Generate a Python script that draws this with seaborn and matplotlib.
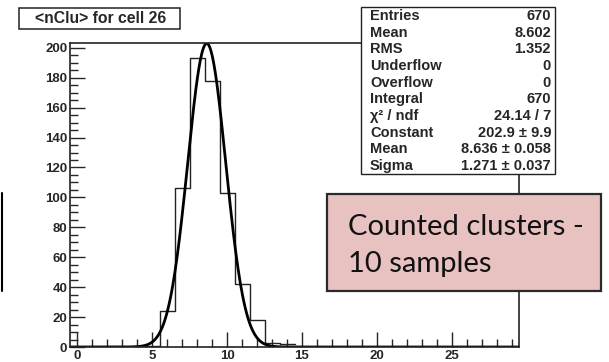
import numpy as np
import pandas as pd
import matplotlib
matplotlib.use('Agg')
import matplotlib.pyplot as plt
from matplotlib.patches import Rectangle
from matplotlib.lines import Line2D
import seaborn as sns

# Histogram contents (bins of width 1, centred on integers)
bin_centers = [5, 6, 7, 8, 9, 10, 11, 12, 13, 14]
bin_counts = [1, 24, 106, 193, 178, 103, 42, 18, 3, 2]

# Gaussian fit parameters from the stats box
fit_constant = 202.9
fit_mean = 8.636
fit_sigma = 1.271

stat_labels = ['Entries', 'Mean', 'RMS', 'Underflow', 'Overflow', 'Integral',
               '\u03c7\u00b2 / ndf', 'Constant', 'Mean', 'Sigma']
stat_values = ['670', '8.602', '1.352', '0', '0', '670',
               '24.14 / 7', '202.9 \u00b1 9.9', '8.636 \u00b1 0.058', '1.271 \u00b1 0.037']

x_ticks = [0, 5, 10, 15, 20, 25]
y_ticks = [0, 20, 40, 60, 80, 100, 120, 140, 160, 180, 200]

ROOT_FONT = ['Liberation Sans', 'DejaVu Sans']

sns.set_style('ticks')
plt.rcParams['font.family'] = ROOT_FONT

W, H = 609, 362
fig = plt.figure(figsize=(W / 100, H / 100), dpi=100)

def fx(px):
    return px / W

def fy(py):
    return 1 - py / H

ax = fig.add_axes([fx(70), fy(347), fx(519) - fx(70), fy(43) - fy(347)])

df = pd.DataFrame({'nclu': bin_centers, 'count': bin_counts})
sns.histplot(data=df, x='nclu', weights='count', binwidth=1,
             binrange=(min(bin_centers) - 0.5, max(bin_centers) + 0.5),
             element='step', fill=False, color='#222222', linewidth=1.0, ax=ax)

# fitted gaussian
xs = np.linspace(-0.5, 29.5, 600)
fit_df = pd.DataFrame({'x': xs,
                       'y': fit_constant * np.exp(-0.5 * ((xs - fit_mean) / fit_sigma) ** 2)})
sns.lineplot(data=fit_df, x='x', y='y', color='black', linewidth=2.0, ax=ax)

ax.set_xlim(-0.5, 29.5)
ax.set_ylim(0, 203.2)
ax.set_xlabel('')
ax.set_ylabel('')
ax.set_xticks(x_ticks)
ax.set_xticks(np.arange(0, 30, 1), minor=True)
ax.set_yticks(y_ticks)
ax.set_yticks(np.arange(0, 205, 5), minor=True)
ax.tick_params(axis='both', which='major', direction='in', length=11, width=1.0,
               labelsize=9.5, pad=2)
ax.tick_params(axis='both', which='minor', direction='in', length=5.5, width=1.0)
for lab in ax.get_xticklabels() + ax.get_yticklabels():
    lab.set_fontweight('bold')
    lab.set_family(ROOT_FONT)
for sp in ax.spines.values():
    sp.set_visible(True)
    sp.set_linewidth(1.2)
    sp.set_color('#222222')

# title box
fig.patches.append(Rectangle((fx(19), fy(29)), fx(180) - fx(19), fy(8) - fy(29),
                             transform=fig.transFigure, facecolor='white',
                             edgecolor='#222222', linewidth=1.1, zorder=2))
fig.text(fx(101), fy(23), '<nClu> for cell 26', ha='center', va='baseline',
         fontsize=11.3, fontweight='bold', family=ROOT_FONT, zorder=3)

# stats box
fig.patches.append(Rectangle((fx(361), fy(174)), fx(555) - fx(361), fy(7) - fy(174),
                             transform=fig.transFigure, facecolor='white',
                             edgecolor='#222222', linewidth=1.0, zorder=2))
for i, (lab, val) in enumerate(zip(stat_labels, stat_values)):
    base = 20 + i * 16.67
    fig.text(fx(370), fy(base), lab, ha='left', va='baseline', fontsize=10.5,
             fontweight='bold', family=ROOT_FONT, zorder=3)
    fig.text(fx(551), fy(base), val, ha='right', va='baseline', fontsize=10.5,
             fontweight='bold', family=ROOT_FONT, zorder=3)

# pink annotation box
fig.patches.append(Rectangle((fx(327), fy(291)), fx(601) - fx(327), fy(194) - fy(291),
                             transform=fig.transFigure, facecolor='#e8c1c1',
                             edgecolor='#2a2a2a', linewidth=1.6, zorder=2))
fig.text(fx(348), fy(235), 'Counted clusters -', ha='left', va='baseline',
         fontsize=21, family=['Lato', 'DejaVu Sans'], color='#111111', zorder=3)
fig.text(fx(348), fy(272), '10 samples', ha='left', va='baseline',
         fontsize=21, family=['Lato', 'DejaVu Sans'], color='#111111', zorder=3)

# stray edge of a neighbouring box on the slide
fig.lines.append(Line2D([fx(1.5), fx(1.5)], [fy(193), fy(291)], transform=fig.transFigure,
                        color='black', linewidth=1.5))

fig.savefig('out.png', dpi=100)
